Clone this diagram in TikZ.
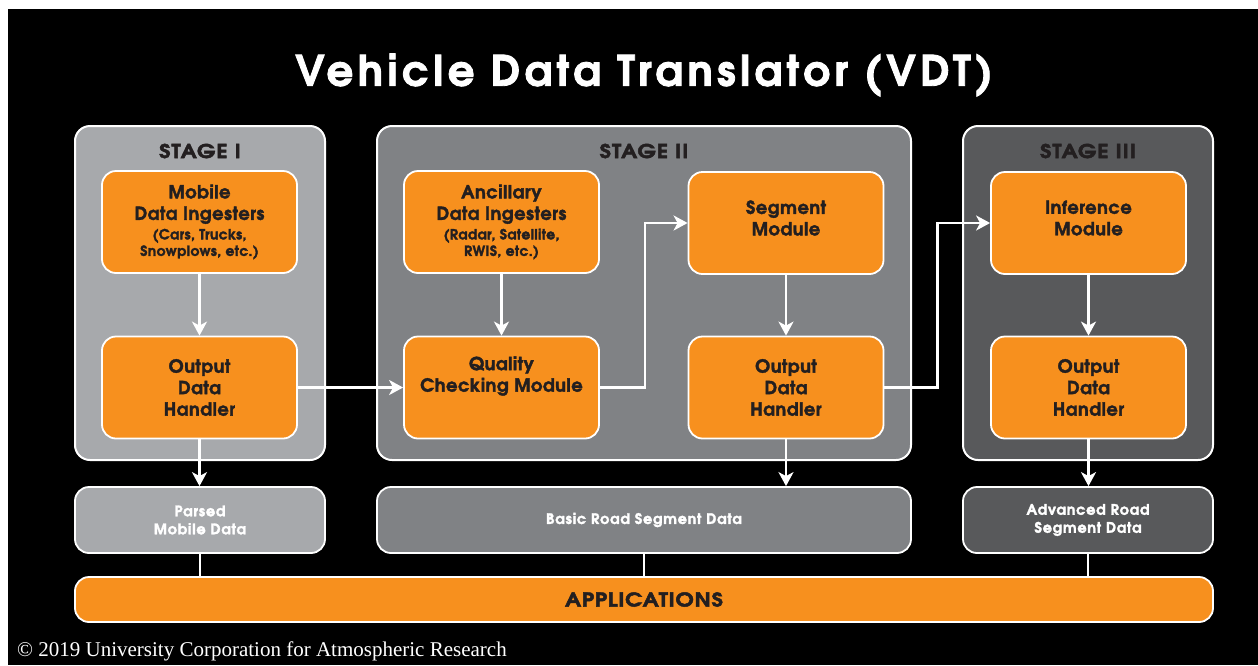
\documentclass[tikz,border=0pt]{standalone}
\usepackage{fontspec}
\setmainfont{texgyreadventor}[Extension=.otf, UprightFont=*-regular, BoldFont=*-bold, ItalicFont=*-italic, BoldItalicFont=*-bolditalic]
\newfontfamily\gb{texgyreadventor-bold}[Extension=.otf, FakeBold=2]
\newfontfamily\gbw{texgyreadventor-bold}[Extension=.otf, FakeBold=2.5, FakeStretch=1.15]
\newfontfamily\cpyfont{Liberation Serif}
\usetikzlibrary{arrows.meta}
\definecolor{vorange}{HTML}{F7901E}
\definecolor{gone}{HTML}{A7A9AC}
\definecolor{gtwo}{HTML}{808285}
\definecolor{gthree}{HTML}{58595B}
\definecolor{dtext}{HTML}{231F20}
\newcommand\smallf{\fontsize{14}{15}\selectfont}
\tikzset{
  stagebox/.style={draw=white, line width=2pt, rounded corners=15pt, minimum height=334pt, inner sep=0pt},
  stagelabel/.style={font=\gbw\addfontfeatures{LetterSpace=5}\fontsize{19}{22}\selectfont, text=dtext, inner sep=0pt},
  obox/.style={draw=white, line width=1.8pt, fill=vorange, rounded corners=14pt, minimum width=195pt, minimum height=102pt, inner sep=0pt, font=\gb\addfontfeatures{LetterSpace=2.5}\fontsize{18}{21.5}\selectfont, text=dtext, align=center},
  otext/.style={font=\gb\addfontfeatures{LetterSpace=2.5}\fontsize{18}{21.5}\selectfont, text=dtext, align=center, inner sep=0pt},
  databox/.style={draw=white, line width=1.8pt, rounded corners=14pt, minimum height=66pt, inner sep=0pt, font=\gb\addfontfeatures{LetterSpace=5}\fontsize{14.5}{18}\selectfont, text=white, align=center},
  arr/.style={draw=white, line width=2.5pt, -{Stealth[length=14pt,width=15pt,inset=4pt]}},
  link/.style={draw=white, line width=2.5pt}
}
\begin{document}
\begin{tikzpicture}[x=1pt,y=-1pt]
\useasboundingbox (0,0) rectangle (1258,665);
\fill[white] (0,0) rectangle (1258,665);
\fill[black] (8,9) rectangle (1258,665);
\node[font=\gb\addfontfeatures{LetterSpace=10.5}\fontsize{42}{50}\selectfont, text=white, inner sep=0pt] (title) at (644,75) {Vehicle Data Translator (VDT)};
% stages
\node[stagebox, fill=gone, minimum width=250pt] (st1) at (200,293) {};
\node[stagebox, fill=gtwo, minimum width=534pt] (st2) at (644,293) {};
\node[stagebox, fill=gthree, minimum width=250pt] (st3) at (1088,293) {};
\node[stagelabel] (st1l) at (200,151) {STAGE I};
\node[stagelabel] (st2l) at (644,151) {STAGE II};
\node[stagelabel] (st3l) at (1088,151) {STAGE III};
% orange boxes
\node[obox] (mob) at (199.5,222) {Mobile\\Data Ingesters\\[-2pt]\smallf (Cars, Trucks,\\[-5pt]\smallf Snowplows, etc.)};
\node[obox] (out1) at (199.5,387.5) {Output\\Data\\Handler};
\node[obox] (anc) at (501.5,222) {Ancillary\\Data Ingesters\\[-2pt]\smallf (Radar, Satellite,\\[-5pt]\smallf RWIS, etc.)};
\node[obox] (qual) at (501.5,387.5) {};
\node[otext] (qualt) at (501.5,376) {Quality\\Checking Module};
\node[obox] (seg) at (786,223) {};
\node[otext] (segt) at (786,218) {Segment\\Module};
\node[obox] (out2) at (786,387.5) {Output\\Data\\Handler};
\node[obox] (inf) at (1088.5,223) {};
\node[otext] (inft) at (1088.5,218) {Inference\\Module};
\node[obox] (out3) at (1088.5,387.5) {Output\\Data\\Handler};
% data boxes
\node[databox, fill=gone, minimum width=250pt] (parsed) at (200,520) {Parsed\\Mobile Data};
\node[databox, fill=gtwo, minimum width=534pt] (basic) at (644,520) {Basic Road Segment Data};
\node[databox, fill=gthree, minimum width=250pt] (adv) at (1088,520) {Advanced Road\\Segment Data};
\node[draw=white, line width=1.8pt, fill=vorange, rounded corners=14pt, minimum width=1138pt, minimum height=45pt, inner sep=0pt, font=\gbw\addfontfeatures{LetterSpace=4}\fontsize{19}{22}\selectfont, text=dtext] (apps) at (644,599.5) {APPLICATIONS};
% arrows
\draw[arr] (mob) -- (out1);
\draw[arr] (anc) -- (qual);
\draw[arr] (seg) -- (out2);
\draw[arr] (inf) -- (out3);
\draw[arr] (out1) -- (qual);
\draw[arr] (qual.east) -- ++(45,0) |- (seg.west);
\draw[arr] (out2.east) -- ++(53,0) |- (inf.west);
\draw[arr] (out1.south) -- (out1.south |- parsed.north);
\draw[arr] (out2.south) -- (out2.south |- basic.north);
\draw[arr] (out3.south) -- (out3.south |- adv.north);
\draw[link] (parsed.south) -- (parsed.south |- apps.north);
\draw[link] (basic.south) -- (basic.south |- apps.north);
\draw[link] (adv.south) -- (adv.south |- apps.north);
\node[anchor=base west, inner sep=0pt, text=white, font=\cpyfont\fontsize{21}{24}\selectfont] (copy) at (17,656) {\textcopyright{} 2019 University Corporation for Atmospheric Research};
\end{tikzpicture}
\end{document}
